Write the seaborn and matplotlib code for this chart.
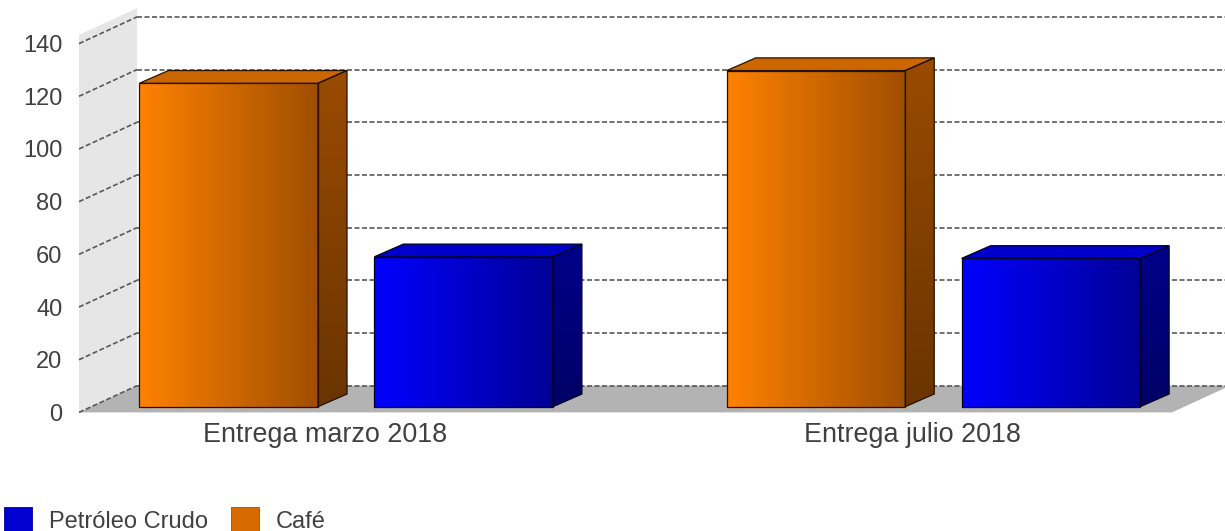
import numpy as np
import pandas as pd
import matplotlib
matplotlib.use('Agg')
import matplotlib.pyplot as plt
import seaborn as sns
from matplotlib.patches import Polygon, Patch
from matplotlib.colors import LinearSegmentedColormap, to_rgb
from matplotlib.transforms import ScaledTranslation

# data
entregas = ['Entrega marzo 2018', 'Entrega julio 2018']
productos = ['Café', 'Petróleo Crudo']
cafe = [122.8, 127.6]
petroleo = [56.9, 56.3]
yticks = [0, 20, 40, 60, 80, 100, 120, 140]

df = pd.DataFrame({
    'entrega': entregas * 2,
    'producto': ['Café'] * 2 + ['Petróleo Crudo'] * 2,
    'valor': cafe + petroleo,
})

sns.set_theme(style='white')
plt.rcParams['font.family'] = ['Liberation Sans', 'DejaVu Sans']
texto = '#404040'

fig = plt.figure(figsize=(12.25, 5.31), dpi=100)
ax = fig.add_axes([79 / 1225, (531 - 412.4) / 531, 1093 / 1225, 368.8 / 531])

colores = {'Café': '#ff8000', 'Petróleo Crudo': '#0000ff'}
sombras = {
    'Café': dict(front=('#ff8200', '#a04e00'), top='#cc6600',
                 side=('#9a4b00', '#6a3400'), edge='#241200'),
    'Petróleo Crudo': dict(front=('#0000ff', '#000096'), top='#0000cc',
                           side=('#00008a', '#000066'), edge='#000022'),
}

sns.barplot(data=df, x='entrega', y='valor', hue='producto', order=entregas,
            hue_order=productos, palette=colores, saturation=1, width=0.8, gap=0.24,
            ax=ax, legend=False, zorder=4)

# 3d geometry (data units)
XL, XR = -0.4339, 1.4274
DX, DY = 0.0988, 10.14          # full depth of the box
BX, BY = 0.0211, 2.16           # bars sit a little behind the front plane
BDX, BDY = 0.0494, 4.82         # depth of each bar
TOP = 143.3

# left wall and floor
ax.add_patch(Polygon([(XL, 0), (XL, TOP), (XL + DX, TOP + DY), (XL + DX, DY)],
                     closed=True, fc='#e6e6e6', ec='none', zorder=1, clip_on=False))
ax.add_patch(Polygon([(XL, 0), (XR, 0), (XR + DX, DY), (XL + DX, DY)],
                     closed=True, fc='#b3b3b3', ec='none', zorder=1, clip_on=False))

# dashed grid on back wall and left wall
for v in yticks:
    ax.plot([XL + DX, XR + DX + 0.1], [v + DY, v + DY], color='#585858', lw=1.2,
            ls=(0, (3.0, 1.5)), zorder=2, clip_on=False)
    ax.plot([XL, XL + DX], [v, v + DY], color='#585858', lw=1.2,
            ls=(0, (3.0, 1.5)), zorder=2, clip_on=False)

grad_h = np.linspace(0, 1, 256).reshape(1, -1)
grad_v = np.linspace(0, 1, 256).reshape(-1, 1)

for bar in list(ax.patches):
    if bar.get_zorder() != 4 or not hasattr(bar, 'get_width'):
        continue
    fc = bar.get_facecolor()
    prod = 'Café' if np.allclose(fc[:3], to_rgb(colores['Café']), atol=0.05) else 'Petróleo Crudo'
    s = sombras[prod]
    x, w, h = bar.get_x() + BX, bar.get_width(), bar.get_height()
    y0 = BY
    bar.set_x(x)
    bar.set_y(y0)
    bar.set_facecolor('none')
    bar.set_edgecolor(s['edge'])
    bar.set_linewidth(0.9)

    cm = LinearSegmentedColormap.from_list('f', s['front'])
    ax.imshow(grad_h, cmap=cm, extent=[x, x + w, y0, y0 + h], aspect='auto',
              interpolation='bilinear', zorder=3.5)

    ax.add_patch(Polygon([(x, y0 + h), (x + w, y0 + h), (x + w + BDX, y0 + h + BDY),
                          (x + BDX, y0 + h + BDY)], closed=True, fc=s['top'],
                         ec=s['edge'], lw=0.9, zorder=4.1))

    side = Polygon([(x + w, y0), (x + w + BDX, y0 + BDY), (x + w + BDX, y0 + h + BDY),
                    (x + w, y0 + h)], closed=True, fc='none', ec=s['edge'], lw=0.9, zorder=4.1)
    ax.add_patch(side)
    cm = LinearSegmentedColormap.from_list('s', s['side'])
    im = ax.imshow(grad_v, cmap=cm, extent=[x + w, x + w + BDX, y0, y0 + h + BDY],
                   aspect='auto', interpolation='bilinear', zorder=3.5)
    im.set_clip_path(side)

ax.set_xlim(XL, XR)
ax.set_ylim(0, 140)
ax.set_yticks(yticks)
ax.set_xlabel('')
ax.set_ylabel('')
for sp in ax.spines.values():
    sp.set_visible(False)
ax.tick_params(axis='y', length=0, pad=12, labelsize=17, labelcolor=texto)
ax.tick_params(axis='x', length=0, pad=7, labelsize=19.4, labelcolor=texto)
for lab in ax.get_xticklabels():
    lab.set_transform(lab.get_transform() + ScaledTranslation(-9 / 100, 0, fig.dpi_scale_trans))

handles = [Patch(fc='#0000d0', ec='#0000a0', lw=0.6), Patch(fc='#d86a00', ec='#a05000', lw=0.6)]
fig.legend(handles, ['Petróleo Crudo', 'Café'], loc='center left',
           bbox_to_anchor=(4 / 1225, 11 / 531), ncol=2, frameon=False, fontsize=17,
           handlelength=1.2, handleheight=1.2, handletextpad=0.72, columnspacing=0.95,
           borderpad=0, borderaxespad=0, labelcolor=texto)

fig.savefig('out.png', dpi=100)
